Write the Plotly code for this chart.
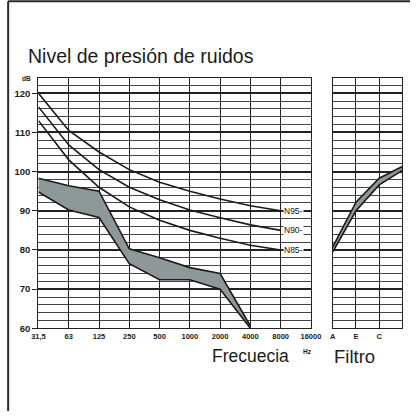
import plotly.graph_objects as go

freq_labels = ["31,5", "63", "125", "250", "500", "1000", "2000", "4000", "8000", "16000"]
n95 = [120, 110.5, 105, 100.5, 97.3, 95, 93, 91.3, 90]
n90 = [116.5, 106.8, 100.5, 96, 92.8, 90.2, 88.2, 86.4, 85]
n85 = [113, 103, 96, 91, 87.6, 85, 83, 81.2, 80]
band_upper = [98.3, 96.4, 95, 80.3, 78, 75.5, 74, 60.6]
band_lower = [94.8, 90.2, 88.3, 76.5, 72.4, 72.4, 70, 60]

filter_labels = ["A", "E", "C", ""]
filter_upper = [80.8, 92.2, 98.3, 101.3]
filter_lower = [79.5, 90, 96.6, 100.3]

curve_names = ["N95", "N90", "N85"]
y_ticks = [60, 70, 80, 90, 100, 110, 120]

FONT = "Liberation Sans"
INK = "#1b1b1b"
BAND = "#8e9898"

W, H = 420, 416
S = 0.965  # observed capture scale about the page centre


def px(x):
    """target picture x (pixels) -> paper fraction"""
    return (W / 2 + (x - W / 2) / S) / W


def py(y):
    """target picture y (pixels from top) -> paper fraction"""
    return 1 - (H / 2 + (y - H / 2) / S) / H


fx = list(range(len(freq_labels)))
ffx = list(range(len(filter_labels)))

fig = go.Figure()

fig.add_trace(go.Scatter(x=fx[:len(band_lower)], y=band_lower, mode="lines",
                         line=dict(color=INK, width=1.6), xaxis="x", yaxis="y",
                         showlegend=False, hoverinfo="skip"))
fig.add_trace(go.Scatter(x=fx[:len(band_upper)], y=band_upper, mode="lines",
                         line=dict(color=INK, width=1.6), fill="tonexty",
                         fillcolor=BAND, xaxis="x", yaxis="y",
                         showlegend=False, hoverinfo="skip"))

for name, vals in zip(curve_names, [n95, n90, n85]):
    fig.add_trace(go.Scatter(x=fx[:len(vals)], y=vals, mode="lines",
                             line=dict(color=INK, width=1.6), xaxis="x", yaxis="y",
                             showlegend=False, hoverinfo="skip"))
    fig.add_annotation(x=fx[len(vals) - 1], y=vals[-1], xref="x", yref="y",
                       text=name + "-", showarrow=False, xanchor="left",
                       xshift=2, font=dict(family=FONT, size=8.5, color="#111"),
                       bgcolor="white", borderpad=0)

fig.add_trace(go.Scatter(x=ffx, y=filter_lower, mode="lines",
                         line=dict(color=INK, width=1.6), xaxis="x2", yaxis="y2",
                         showlegend=False, hoverinfo="skip"))
fig.add_trace(go.Scatter(x=ffx, y=filter_upper, mode="lines",
                         line=dict(color=INK, width=1.6), fill="tonexty",
                         fillcolor=BAND, xaxis="x2", yaxis="y2",
                         showlegend=False, hoverinfo="skip"))

common_y = dict(range=[60, 124], tick0=60, dtick=10, showgrid=True,
                gridcolor="#222", gridwidth=1.7, zeroline=False,
                showline=True, linecolor="#222", linewidth=1.4, mirror=True,
                minor=dict(dtick=2, showgrid=True, gridcolor="#444", gridwidth=0.9))

fig.update_layout(
    width=W, height=H, margin=dict(l=0, r=0, t=0, b=0),
    paper_bgcolor="white", plot_bgcolor="white",
    font=dict(family=FONT, color=INK),
    xaxis=dict(domain=[px(39), px(313)], range=[0, len(freq_labels) - 1],
               tickvals=fx, ticktext=freq_labels, showgrid=True,
               gridcolor="#222", gridwidth=1.2, zeroline=False,
               showline=True, linecolor="#222", linewidth=1.4, mirror=True,
               ticks="", tickfont=dict(family=FONT, size=7.5, color=INK, weight="bold"),
               anchor="y"),
    yaxis=dict(domain=[py(328), py(83)], anchor="x", tickvals=y_ticks,
               ticks="outside", ticklen=5, tickwidth=1.4, tickcolor="#222",
               tickfont=dict(family=FONT, size=9.5, color=INK, weight="bold"), **common_y),
    xaxis2=dict(domain=[px(335), px(405)], range=[0, len(filter_labels) - 1],
                tickvals=ffx, ticktext=filter_labels, showgrid=True,
                gridcolor="#222", gridwidth=1.2, zeroline=False,
                showline=True, linecolor="#222", linewidth=1.4, mirror=True,
                ticks="", tickfont=dict(family=FONT, size=7.5, color=INK, weight="bold"),
                anchor="y2"),
    yaxis2=dict(domain=[py(328), py(83)], anchor="x2", showticklabels=False,
                ticks="", **common_y),
)

fig.add_annotation(x=px(26), y=py(62), xref="paper", yref="paper",
                   text="Nivel de presión de ruidos", showarrow=False,
                   xanchor="left", yanchor="middle",
                   font=dict(family=FONT, size=19.5, color=INK))
fig.add_annotation(x=px(34), y=py(84), xref="paper", yref="paper",
                   text="<b>dB</b>", showarrow=False, xanchor="right", yanchor="middle",
                   font=dict(family=FONT, size=6.5, color=INK))
fig.add_annotation(x=px(212), y=py(355), xref="paper", yref="paper",
                   text="Frecuecia", showarrow=False, xanchor="left", yanchor="middle",
                   font=dict(family=FONT, size=17.5, color=INK))
fig.add_annotation(x=px(303), y=py(351), xref="paper", yref="paper",
                   text="<b>Hz</b>", showarrow=False, xanchor="left", yanchor="middle",
                   font=dict(family=FONT, size=6.5, color=INK))
fig.add_annotation(x=px(334), y=py(355), xref="paper", yref="paper",
                   text="Filtro", showarrow=False, xanchor="left", yanchor="middle",
                   font=dict(family=FONT, size=18.5, color=INK))

# photo frame edges (top and left)
fl, ft = max(px(3), 1.2 / W), min(py(6), 1 - 1.2 / H)
fig.add_shape(type="line", xref="paper", yref="paper", x0=fl, x1=1, y0=ft, y1=ft,
              line=dict(color="#2a2a2a", width=2))
fig.add_shape(type="line", xref="paper", yref="paper", x0=fl, x1=fl, y0=0, y1=ft,
              line=dict(color="#2a2a2a", width=2))

fig.write_html("out.html", config={"displayModeBar": False},
               post_script="document.body.style.margin='0';document.body.style.overflow='hidden';")
